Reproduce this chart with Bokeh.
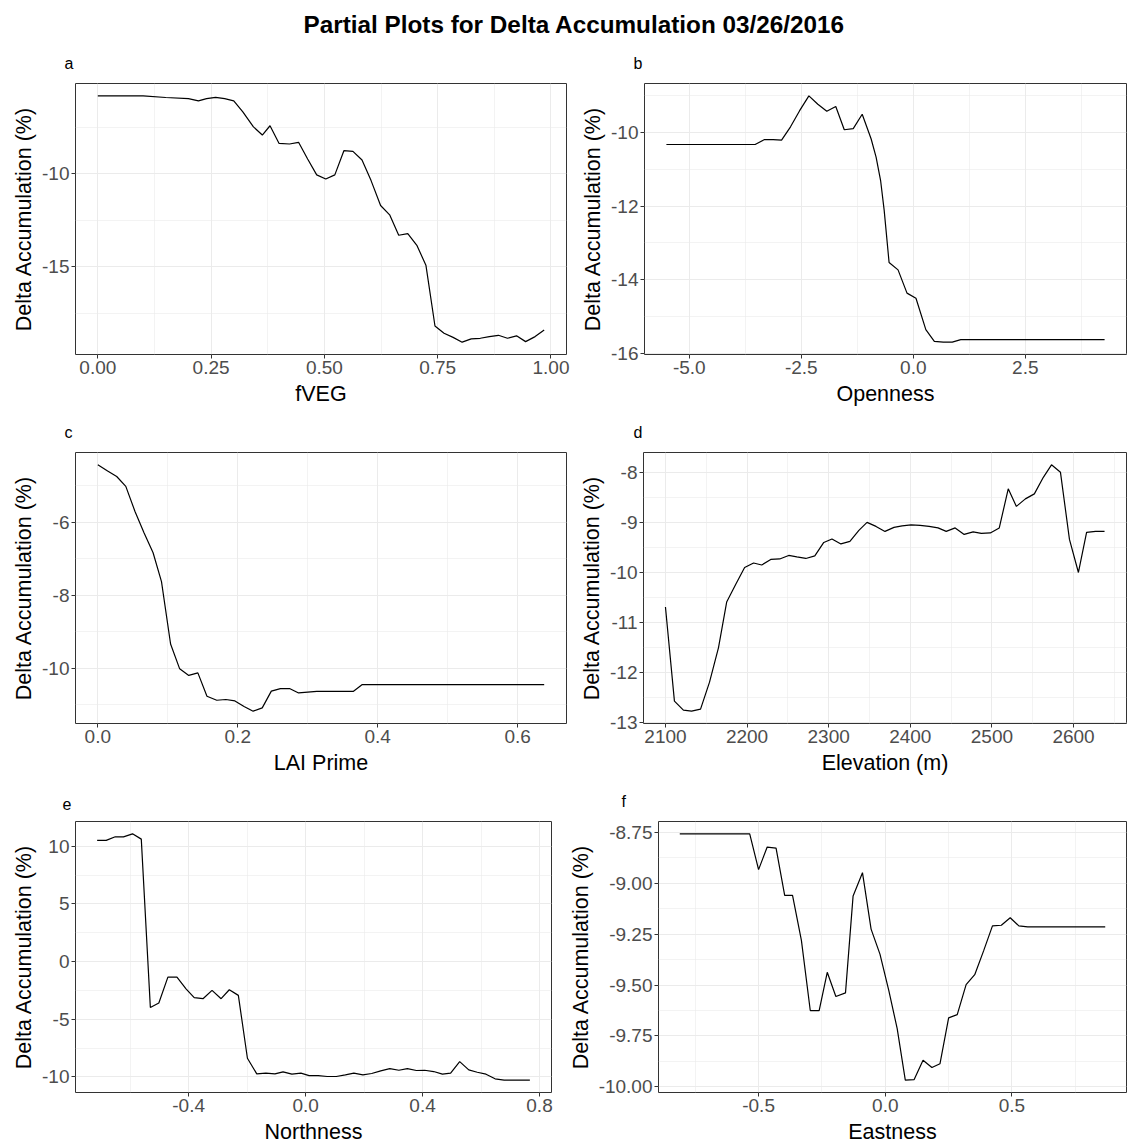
from bokeh.plotting import figure
from bokeh.models import Range1d, FixedTicker, PrintfTickFormatter, Title
from bokeh.layouts import column, row
from bokeh.embed import file_html
from bokeh.resources import INLINE

FONT = "Liberation Sans"
MAIN_TITLE = "Partial Plots for Delta Accumulation 03/26/2016"
Y_LABEL = "Delta Accumulation (%)"

# ---------------- data ----------------
a_x = [0.00, 0.10, 0.15, 0.20, 0.222, 0.24, 0.26, 0.28, 0.30, 0.32, 0.343, 0.363, 0.38, 0.40, 0.423,
       0.443, 0.463, 0.483, 0.503, 0.523, 0.543, 0.563, 0.583, 0.603, 0.624, 0.644, 0.664, 0.684,
       0.704, 0.724, 0.744, 0.764, 0.784, 0.804, 0.824, 0.844, 0.864, 0.884, 0.904, 0.924, 0.944,
       0.965, 0.985]
a_y = [-5.80, -5.80, -5.89, -5.95, -6.07, -5.95, -5.88, -5.95, -6.07, -6.66, -7.46, -7.91, -7.41,
       -8.36, -8.39, -8.30, -9.20, -10.05, -10.27, -10.05, -8.75, -8.79, -9.25, -10.36, -11.70,
       -12.20, -13.30, -13.21, -13.84, -14.91, -18.18, -18.57, -18.79, -19.05, -18.87, -18.84,
       -18.75, -18.68, -18.84, -18.71, -19.02, -18.75, -18.39]

b_x = [-5.51, -3.53, -3.33, -3.13, -2.94, -2.74, -2.54, -2.33, -2.13, -1.93, -1.73, -1.54, -1.34,
       -1.14, -0.94, -0.83, -0.73, -0.65, -0.54, -0.34, -0.14, 0.06, 0.28, 0.47, 0.67, 0.87, 1.06,
       4.27]
b_y = [-10.33, -10.33, -10.20, -10.20, -10.21, -9.85, -9.42, -9.01, -9.24, -9.43, -9.30, -9.93,
       -9.90, -9.51, -10.18, -10.67, -11.30, -12.11, -13.53, -13.73, -14.36, -14.50, -15.35,
       -15.67, -15.69, -15.69, -15.62, -15.62]

c_x = [0.000, 0.014, 0.027, 0.040, 0.053, 0.066, 0.079, 0.091, 0.104, 0.117, 0.130, 0.143, 0.156,
       0.170, 0.183, 0.196, 0.209, 0.222, 0.235, 0.248, 0.261, 0.274, 0.287, 0.300, 0.313, 0.365,
       0.378, 0.638]
c_y = [-4.43, -4.60, -4.75, -5.02, -5.70, -6.29, -6.84, -7.63, -9.34, -10.02, -10.20, -10.13,
       -10.77, -10.88, -10.86, -10.90, -11.05, -11.18, -11.09, -10.63, -10.56, -10.56, -10.68,
       -10.66, -10.64, -10.64, -10.45, -10.45]

d_x = [2100, 2111, 2122, 2132, 2143, 2154, 2165, 2175, 2186, 2197, 2208, 2218, 2229, 2240, 2251,
       2261, 2272, 2283, 2294, 2304, 2315, 2326, 2337, 2347, 2358, 2369, 2380, 2390, 2401, 2412,
       2423, 2434, 2444, 2455, 2466, 2477, 2487, 2498, 2509, 2520, 2530, 2541, 2552, 2563, 2573,
       2584, 2595, 2606, 2616, 2627, 2638]
d_y = [-10.69, -12.57, -12.75, -12.77, -12.73, -12.19, -11.50, -10.59, -10.24, -9.90,
       -9.81, -9.85, -9.74, -9.73, -9.66, -9.69, -9.72, -9.67, -9.40, -9.33,
       -9.43, -9.38, -9.16, -9.00, -9.08, -9.18, -9.10, -9.07, -9.05, -9.06,
       -9.08, -9.11, -9.18, -9.11, -9.24, -9.19, -9.22, -9.21, -9.11, -8.33,
       -8.68, -8.53, -8.43, -8.10, -7.85, -8.00, -9.34, -10.00, -9.20, -9.18,
       -9.18]

e_x = [-0.713, -0.682, -0.651, -0.623, -0.592, -0.562, -0.531, -0.502, -0.471, -0.440, -0.409,
       -0.381, -0.351, -0.320, -0.289, -0.261, -0.230, -0.199, -0.167, -0.136, -0.105, -0.077,
       -0.047, -0.016, 0.012, 0.043, 0.074, 0.105, 0.136, 0.165, 0.196, 0.226, 0.257, 0.288,
       0.319, 0.348, 0.379, 0.407, 0.438, 0.468, 0.496, 0.527, 0.558, 0.587, 0.617, 0.648,
       0.679, 0.708, 0.739, 0.767]
e_y = [10.52, 10.52, 10.83, 10.83, 11.09, 10.63, -3.99, -3.59, -1.35, -1.35, -2.36, -3.13, -3.22,
       -2.50, -3.22, -2.44, -2.93, -8.39, -9.74, -9.68, -9.74, -9.57, -9.77, -9.68, -9.89, -9.89,
       -9.97, -9.97, -9.83, -9.68, -9.83, -9.71, -9.48, -9.28, -9.43, -9.28, -9.45, -9.43, -9.54,
       -9.77, -9.68, -8.68, -9.40, -9.60, -9.77, -10.17, -10.29, -10.29, -10.29, -10.29]

f_x = [-0.811, -0.535, -0.500, -0.466, -0.431, -0.397, -0.366, -0.331, -0.296, -0.261, -0.229,
       -0.195, -0.157, -0.127, -0.090, -0.056, -0.021, 0.014, 0.047, 0.079, 0.114, 0.149, 0.184,
       0.216, 0.250, 0.284, 0.319, 0.353, 0.388, 0.423, 0.458, 0.493, 0.527, 0.562, 0.868]
f_y = [-8.757, -8.757, -8.933, -8.822, -8.827, -9.059, -9.059, -9.280, -9.625, -9.625, -9.437,
       -9.556, -9.538, -9.062, -8.948, -9.225, -9.348, -9.527, -9.714, -9.967, -9.964, -9.869,
       -9.905, -9.886, -9.661, -9.645, -9.498, -9.449, -9.332, -9.209, -9.206, -9.169, -9.209,
       -9.214, -9.214]

# ---------------- ticks ----------------
a_xticks = [0.0, 0.25, 0.5, 0.75, 1.0]
a_xlabels = ["0.00", "0.25", "0.50", "0.75", "1.00"]
a_xminor = [0.125, 0.375, 0.625, 0.875]
a_yticks = [-15, -10]
a_ylabels = ["-15", "-10"]
a_yminor = [-17.5, -12.5, -7.5]

b_xticks = [-5.0, -2.5, 0.0, 2.5]
b_xlabels = ["-5.0", "-2.5", "0.0", "2.5"]
b_xminor = [-3.75, -1.25, 1.25, 3.75]
b_yticks = [-16, -14, -12, -10]
b_ylabels = ["-16", "-14", "-12", "-10"]
b_yminor = [-15, -13, -11, -9]

c_xticks = [0.0, 0.2, 0.4, 0.6]
c_xlabels = ["0.0", "0.2", "0.4", "0.6"]
c_xminor = [0.1, 0.3, 0.5]
c_yticks = [-10, -8, -6]
c_ylabels = ["-10", "-8", "-6"]
c_yminor = [-11, -9, -7, -5]

d_xticks = [2100, 2200, 2300, 2400, 2500, 2600]
d_xlabels = ["2100", "2200", "2300", "2400", "2500", "2600"]
d_xminor = [2150, 2250, 2350, 2450, 2550, 2650]
d_yticks = [-13, -12, -11, -10, -9, -8]
d_ylabels = ["-13", "-12", "-11", "-10", "-9", "-8"]
d_yminor = [-12.5, -11.5, -10.5, -9.5, -8.5]

e_xticks = [-0.4, 0.0, 0.4, 0.8]
e_xlabels = ["-0.4", "0.0", "0.4", "0.8"]
e_xminor = [-0.6, -0.2, 0.2, 0.6]
e_yticks = [-10, -5, 0, 5, 10]
e_ylabels = ["-10", "-5", "0", "5", "10"]
e_yminor = [-7.5, -2.5, 2.5, 7.5]

f_xticks = [-0.5, 0.0, 0.5]
f_xlabels = ["-0.5", "0.0", "0.5"]
f_xminor = [-0.75, -0.25, 0.25, 0.75]
f_yticks = [-10.0, -9.75, -9.5, -9.25, -9.0, -8.75]
f_ylabels = ["-10.00", "-9.75", "-9.50", "-9.25", "-9.00", "-8.75"]
f_yminor = [-9.875, -9.625, -9.375, -9.125, -8.875]


def style_axis(ax, ticks, labels, minor, fmt, label_standoff):
    ax.ticker = FixedTicker(ticks=ticks, minor_ticks=minor)
    ax.formatter = PrintfTickFormatter(format=fmt)
    ax.major_label_overrides = {t: l for t, l in zip(ticks, labels)}
    ax.axis_line_color = None
    ax.major_tick_line_color = "#333333"
    ax.major_tick_line_width = 1
    ax.major_tick_out = 4
    ax.major_tick_in = 0
    ax.minor_tick_line_color = None
    ax.major_label_text_font = FONT
    ax.major_label_text_font_size = "19px"
    ax.major_label_text_color = "#4D4D4D"
    ax.major_label_standoff = 2
    ax.axis_label_text_font = FONT
    ax.axis_label_text_font_size = "21.5px"
    ax.axis_label_text_font_style = "normal"
    ax.axis_label_text_color = "black"
    ax.axis_label_standoff = label_standoff


def panel(x, y, letter, xlabel, xt, xl, xm, yt, yl, ym, xfmt, yfmt,
          width, height, bl, br, bt, bb, loff):
    xs = max(x) - min(x)
    ys = max(y) - min(y)
    p = figure(width=width, height=height, output_backend="svg", toolbar_location=None,
               x_range=Range1d(min(x) - 0.05 * xs, max(x) + 0.05 * xs),
               y_range=Range1d(min(y) - 0.05 * ys, max(y) + 0.05 * ys),
               min_border_left=bl, min_border_right=br, min_border_top=bt,
               min_border_bottom=bb)
    p.background_fill_color = "white"
    p.border_fill_color = "white"
    p.outline_line_color = "#333333"
    p.outline_line_width = 1
    p.line(x, y, line_color="black", line_width=1.2)
    style_axis(p.xaxis[0], xt, xl, xm, xfmt, 5)
    style_axis(p.yaxis[0], yt, yl, ym, yfmt, 3)
    p.xaxis.axis_label = xlabel
    p.yaxis.axis_label = Y_LABEL
    for g, t, m in ((p.xgrid[0], xt, xm), (p.ygrid[0], yt, ym)):
        g.ticker = FixedTicker(ticks=t, minor_ticks=m)
        g.grid_line_color = "#EBEBEB"
        g.grid_line_width = 1
        g.minor_grid_line_color = "#EBEBEB"
        g.minor_grid_line_width = 0.6
    t = Title(text=letter, align="left", offset=loff, standoff=24,
              text_font=FONT, text_font_size="16px", text_font_style="normal",
              text_color="black")
    p.add_layout(t, "above")
    return p


LW, RW = 570, 558
pa = panel(a_x, a_y, "a", "fVEG", a_xticks, a_xlabels, a_xminor, a_yticks, a_ylabels, a_yminor,
           "%.2f", "%d", LW, 369, 75, 4, 43, 55, -11)
pb = panel(b_x, b_y, "b", "Openness", b_xticks, b_xlabels, b_xminor, b_yticks, b_ylabels, b_yminor,
           "%.1f", "%d", RW, 369, 74, 2, 43, 55, -11)
pc = panel(c_x, c_y, "c", "LAI Prime", c_xticks, c_xlabels, c_xminor, c_yticks, c_ylabels, c_yminor,
           "%.1f", "%d", LW, 369, 75, 4, 43, 55, -11)
pd = panel(d_x, d_y, "d", "Elevation (m)", d_xticks, d_xlabels, d_xminor, d_yticks, d_ylabels,
           d_yminor, "%d", "%d", RW, 369, 73, 2, 43, 55, -10)
pe = panel(e_x, e_y, "e", "Northness", e_xticks, e_xlabels, e_xminor, e_yticks, e_ylabels, e_yminor,
           "%.1f", "%d", 564, 368, 75, 13, 43, 54, -13)
pf = panel(f_x, f_y, "f", "Eastness", f_xticks, f_xlabels, f_xminor, f_yticks, f_ylabels, f_yminor,
           "%.1f", "%.2f", 564, 368, 94, 2, 43, 54, -37)

header = figure(width=1128, height=40, output_backend="svg", toolbar_location=None,
                x_range=Range1d(0, 1), y_range=Range1d(0, 1),
                min_border_top=38, min_border_bottom=0, min_border_left=0, min_border_right=0)
header.axis.visible = False
header.grid.visible = False
header.outline_line_color = None
header.background_fill_color = "white"
header.border_fill_color = "white"
header.title.text = MAIN_TITLE
header.title.align = "left"
header.title.offset = 303
header.title.standoff = 2
header.title.text_font = FONT
header.title.text_font_size = "24.3px"
header.title.text_font_style = "bold"
header.title.text_color = "black"

layout = column(header, row(pa, pb), row(pc, pd), row(pe, pf))

open("out.html", "w").write(file_html(layout, INLINE))
